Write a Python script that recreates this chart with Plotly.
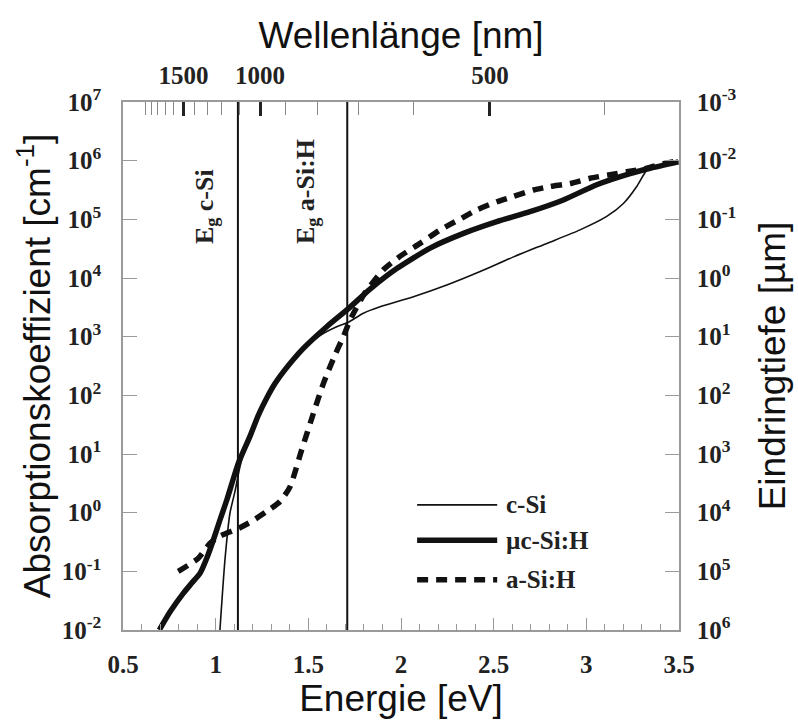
import plotly.graph_objects as go

# ---------------- data ----------------
# Energies in eV, absorption coefficient as log10(alpha / cm^-1)
E_csi = [1.023, 1.050, 1.077, 1.104, 1.131, 1.166, 1.22, 1.275, 1.365, 1.473, 1.563,
         1.653, 1.713, 1.797, 1.887, 2.067, 2.247, 2.427, 2.607, 2.787, 2.966,
         3.11, 3.20, 3.272, 3.326, 3.36, 3.42, 3.497]
logA_csi = [-2.0, -0.81, -0.01, 0.36, 0.78, 1.18, 1.60, 1.95, 2.40, 2.78, 3.02,
            3.17, 3.24, 3.40, 3.51, 3.68, 3.88, 4.11, 4.36, 4.59, 4.82,
            5.05, 5.27, 5.56, 5.84, 5.90, 5.94, 5.99]

E_muc = [0.696, 0.754, 0.825, 0.871, 0.916, 0.955, 0.987, 1.023, 1.06, 1.122, 1.185,
         1.230, 1.275, 1.320, 1.365, 1.473, 1.599, 1.713, 1.833, 1.977, 2.157, 2.337,
         2.517, 2.696, 2.876, 3.056, 3.236, 3.344, 3.497]
logA_muc = [-2.0, -1.69, -1.375, -1.20, -1.03, -0.75, -0.47, -0.125, 0.216, 0.84, 1.30,
            1.66, 1.95, 2.20, 2.40, 2.80, 3.17, 3.47, 3.81, 4.16, 4.51, 4.76,
            4.96, 5.13, 5.33, 5.59, 5.78, 5.87, 5.98]

E_asi = [0.798, 0.905, 0.97, 1.023, 1.122, 1.194, 1.275, 1.347, 1.401, 1.464, 1.527,
         1.581, 1.644, 1.689, 1.725, 1.80, 1.905, 2.004, 2.103, 2.211, 2.310, 2.409,
         2.517, 2.607, 2.715, 2.805, 2.913, 3.02, 3.128, 3.218, 3.326, 3.416, 3.497]
logA_asi = [-1.0, -0.78, -0.52, -0.40, -0.27, -0.15, 0.02, 0.19, 0.44, 1.07, 1.69,
            2.20, 2.69, 3.00, 3.28, 3.72, 4.14, 4.39, 4.59, 4.82, 4.99, 5.16,
            5.30, 5.39, 5.50, 5.56, 5.61, 5.70, 5.76, 5.81, 5.87, 5.95, 6.0]

band_gaps = [1.12, 1.71]          # eV, c-Si and a-Si:H
gap_labels = ["E<sub>g</sub> c-Si", "E<sub>g</sub> a-Si:H"]
gap_label_x = [0.945, 1.49]

series_names = ["c-Si", "µc-Si:H", "a-Si:H"]

x_ticks = [0.5, 1, 1.5, 2, 2.5, 3, 3.5]
x_ticktext = ["0.5", "1", "1.5", "2", "2.5", "3", "3.5"]

wl_major = [1500, 1000, 500]                  # nm
wl_minor = [2000, 1900, 1800, 1700, 1600, 1400, 1300, 1200, 1100,
            900, 800, 700, 600, 400]

alpha_exps = list(range(-2, 8))               # 10^-2 ... 10^7 cm^-1
depth_exps = list(range(-3, 7))               # 10^-3 ... 10^6 µm

# ---------------- derived ----------------
alpha_csi = [10 ** v for v in logA_csi]
alpha_muc = [10 ** v for v in logA_muc]
alpha_asi = [10 ** v for v in logA_asi]
depth_muc = [1e4 / a for a in alpha_muc]      # penetration depth in µm

HC = 1239.84
wl_major_E = [HC / w for w in wl_major]
wl_minor_E = [HC / w for w in wl_minor]

def sup_label(p):
    return "10<sup>%s</sup>" % (str(p) if p >= 0 else "-" + str(abs(p)))

tickfont = dict(family="Liberation Serif", size=25, color="#222", weight="bold")
titlefont = dict(family="Liberation Sans", size=37, color="#111")
AXC = "#9a9a9a"
SPL = dict(shape="spline", smoothing=0.6)

fig = go.Figure()
fig.add_trace(go.Scatter(x=E_csi, y=alpha_csi, mode="lines", name=series_names[0],
                         line=dict(color="#111", width=1.6, **SPL), showlegend=False))
fig.add_trace(go.Scatter(x=E_muc, y=alpha_muc, mode="lines", name=series_names[1],
                         line=dict(color="#111", width=5.5, **SPL), showlegend=False))
fig.add_trace(go.Scatter(x=E_asi, y=alpha_asi, mode="lines", name=series_names[2],
                         line=dict(color="#111", width=5.5, dash="11px,8px", **SPL),
                         showlegend=False))
# invisible trace carrying the secondary axes (wavelength / penetration depth)
fig.add_trace(go.Scatter(x=E_muc, y=depth_muc, mode="lines", xaxis="x2", yaxis="y2",
                         line=dict(color="rgba(0,0,0,0)"), hoverinfo="skip",
                         showlegend=False))

# band gap lines
for eg in band_gaps:
    fig.add_shape(type="line", xref="x", yref="paper", x0=eg, x1=eg, y0=0, y1=1,
                  line=dict(color="#111", width=2))
for txt, xl in zip(gap_labels, gap_label_x):
    fig.add_annotation(x=xl, xref="x", y=0.727, yref="paper", text="<b>%s</b>" % txt,
                       textangle=-90, showarrow=False, yanchor="bottom", xanchor="center",
                       font=dict(family="Liberation Serif", size=26, color="#222"))

# manual legend (long line samples as in the reference)
leg_y = [0.237, 0.170, 0.095]
leg_styles = [dict(width=1.6), dict(width=5.5), dict(width=5.5, dash="11px,8px")]
for name, yy, st in zip(series_names, leg_y, leg_styles):
    fig.add_shape(type="line", xref="paper", yref="paper", x0=0.529, x1=0.673,
                  y0=yy, y1=yy, line=dict(color="#111", **st))
    fig.add_annotation(x=0.686, y=yy, xref="paper", yref="paper", text="<b>%s</b>" % name,
                       showarrow=False, xanchor="left", yanchor="middle",
                       font=dict(family="Liberation Serif", size=25, color="#222"))

fig.update_layout(
    width=798, height=721,
    margin=dict(l=123, r=119, t=102, b=91),
    paper_bgcolor="white", plot_bgcolor="white",
    xaxis=dict(range=[0.5, 3.5], tickmode="array", tickvals=x_ticks, ticktext=x_ticktext,
               ticks="inside", ticklen=12, tickwidth=1, tickcolor=AXC,
               minor=dict(dtick=0.1, tick0=0.5, ticks="inside", ticklen=6, tickcolor=AXC),
               showline=True, linecolor=AXC, linewidth=1.5, mirror=True,
               showgrid=False, zeroline=False, tickfont=tickfont, ticklabelstandoff=11,
               title=dict(text="Energie [eV]", font=titlefont, standoff=2)),
    xaxis2=dict(range=[0.5, 3.5], overlaying="x", side="top", anchor="y2",
                tickmode="array", tickvals=wl_major_E, ticktext=[str(w) for w in wl_major],
                ticks="inside", ticklen=14, tickwidth=3, tickcolor="#222",
                minor=dict(tickmode="array", tickvals=wl_minor_E, ticks="inside",
                           ticklen=13, tickwidth=1, tickcolor="#888"),
                showline=True, linecolor=AXC, linewidth=1.5,
                showgrid=False, zeroline=False, tickfont=tickfont, ticklabelstandoff=6,
                title=dict(text="Wellenlänge [nm]", font=titlefont, standoff=2)),
    yaxis=dict(type="log", range=[-2, 7], tickmode="array",
               tickvals=[10 ** p for p in alpha_exps],
               ticktext=[sup_label(p) for p in alpha_exps],
               ticks="inside", ticklen=14, tickcolor=AXC,
               showline=True, linecolor=AXC, linewidth=1.5, mirror=True,
               showgrid=False, zeroline=False, tickfont=tickfont, ticklabelstandoff=15,
               title=dict(text="Absorptionskoeffizient [cm<sup>-1</sup>]", font=titlefont,
                          standoff=0)),
    yaxis2=dict(type="log", range=[6, -3], overlaying="y", side="right", anchor="x2",
                tickmode="array", tickvals=[10 ** p for p in depth_exps],
                ticktext=[sup_label(p) for p in depth_exps],
                ticks="inside", ticklen=14, tickcolor=AXC,
                showline=True, linecolor=AXC, linewidth=1.5,
                showgrid=False, zeroline=False, tickfont=tickfont, ticklabelstandoff=11,
                title=dict(text="Eindringtiefe [µm]", font=titlefont, standoff=24)),
)

fig.write_html("out.html")
